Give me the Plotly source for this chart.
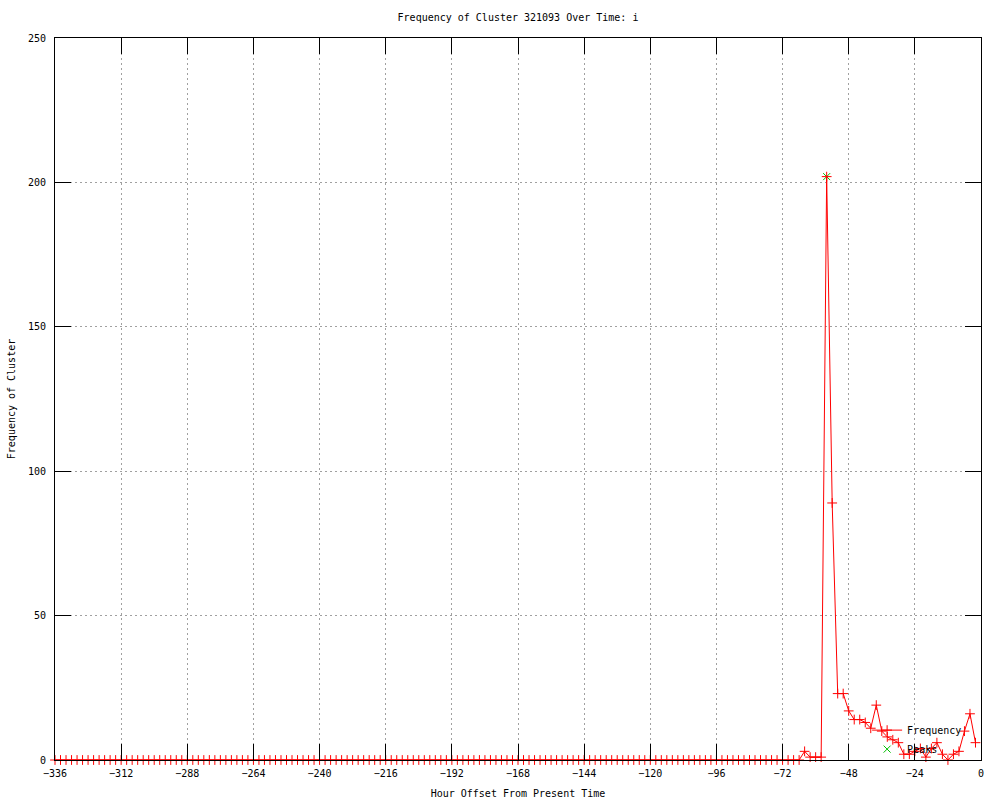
import plotly.graph_objects as go

# hours before present, one sample every 2 hours
hours = list(range(-336, 0, 2))

# cluster frequency per sample
frequency = [
    0, 0, 0, 0, 0, 0, 0, 0, 0, 0, 0, 0, 0, 0, 0, 0, 0,
    0, 0, 0, 0, 0, 0, 0, 0, 0, 0, 0, 0, 0, 0, 0, 0, 0,
    0, 0, 0, 0, 0, 0, 0, 0, 0, 0, 0, 0, 0, 0, 0, 0, 0,
    0, 0, 0, 0, 0, 0, 0, 0, 0, 0, 0, 0, 0, 0, 0, 0, 0,
    0, 0, 0, 0, 0, 0, 0, 0, 0, 0, 0, 0, 0, 0, 0, 0, 0,
    0, 0, 0, 0, 0, 0, 0, 0, 0, 0, 0, 0, 0, 0, 0, 0, 0,
    0, 0, 0, 0, 0, 0, 0, 0, 0, 0, 0, 0, 0, 0, 0, 0, 0,
    0, 0, 0, 0, 0, 0, 0, 0, 0, 0, 0, 0, 0, 0, 0, 0, 0,
    # -64 .. -2
    3, 1, 1, 1, 202, 89, 23, 23, 17, 14, 14, 13, 11, 19, 10, 8,
    7, 6, 2, 2, 3, 4, 1, 4, 6, 2, 0, 2, 3, 10, 16, 6,
]

# detected peaks
peak_hours = [-56]
peak_values = [202]

x_ticks = [-336, -312, -288, -264, -240, -216, -192, -168, -144, -120,
           -96, -72, -48, -24, 0]
y_ticks = [0, 50, 100, 150, 200, 250]

font = dict(family='DejaVu Sans Mono', size=10, color='black')

fig = go.Figure()

# open symbols take their stroke from marker.color
fig.add_trace(go.Scatter(
    x=peak_hours,
    y=peak_values,
    name='Peaks',
    mode='markers',
    marker=dict(symbol='x-thin-open', size=7, color='#00c000',
                line=dict(color='#00c000', width=1)),
    cliponaxis=False,
))

fig.add_trace(go.Scatter(
    x=hours,
    y=frequency,
    name='Frequency',
    mode='lines+markers',
    line=dict(color='#ff0000', width=1),
    marker=dict(symbol='cross-thin-open', size=7, color='#ff0000',
                line=dict(color='#ff0000', width=1)),
    cliponaxis=False,
))

axis_common = dict(
    showline=True,
    linecolor='black',
    linewidth=1,
    mirror='ticks',
    ticks='inside',
    ticklen=16,
    tickcolor='black',
    tickwidth=1,
    showgrid=True,
    gridcolor='#a0a0a0',
    griddash='2px,3px',
    gridwidth=1,
    zeroline=False,
    tickfont=font,
)

fig.update_layout(
    width=1000,
    height=800,
    title=dict(text='Frequency of Cluster 321093 Over Time: i',
               x=0.518, xanchor='center', y=0.978, yanchor='middle',
               font=font),
    xaxis=dict(axis_common, range=[-336, 0], tickvals=x_ticks,
               ticklabelstandoff=4,
               title=dict(text='Hour Offset From Present Time', font=font,
                          standoff=11)),
    yaxis=dict(axis_common, range=[0, 250], tickvals=y_ticks,
               ticklabelstandoff=6,
               title=dict(text='Frequency of Cluster', font=font,
                          standoff=10)),
    legend=dict(x=0.985, y=-0.005, xanchor='right', yanchor='bottom',
                bgcolor='rgba(0,0,0,0)', font=font,
                traceorder='reversed', tracegroupgap=0),
    plot_bgcolor='white',
    paper_bgcolor='white',
    margin=dict(l=55, r=19, t=38, b=40, autoexpand=False),
)

# drop the page's default body margin so the figure sits at the window corner
fig.write_html("out.html", config={'displayModeBar': False},
               post_script="document.body.style.margin='0';")
